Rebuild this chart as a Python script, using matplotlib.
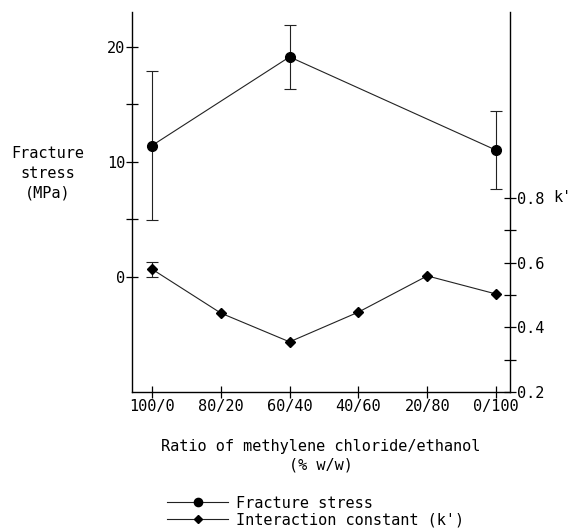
import numpy as np
import matplotlib.pyplot as plt
from matplotlib.ticker import FixedLocator

plt.rcParams['font.family'] = ['DejaVu Sans Mono']
plt.rcParams['font.size'] = 11

# data
ratios = ['100/0', '80/20', '60/40', '40/60', '20/80', '0/100']
stress_idx = [0, 2, 5]
stress = [11.4, 19.1, 11.0]
stress_err = [6.5, 2.8, 3.4]
k_prime = [0.580, 0.444, 0.355, 0.447, 0.559, 0.503]
k_err = [0.023, 0, 0, 0, 0, 0]

fig = plt.figure(figsize=(5.8, 5.31), dpi=100)
ax = fig.add_axes([0.2276, 0.2618, 0.6514, 0.7156])
ax2 = ax.twinx()

x = np.arange(len(ratios))

# fracture stress (left axis)
eb1 = ax.errorbar(stress_idx, stress, yerr=stress_err, color='#222222', lw=0.8,
                  marker='o', ms=7, mfc='black', mec='black', ecolor='#222222',
                  elinewidth=0.8, capsize=4, capthick=0.8)

# interaction constant (right axis)
kerr = np.array(k_err)
eb2 = ax2.errorbar(x, k_prime, yerr=np.where(kerr > 0, kerr, np.nan),
                   color='#222222', lw=0.8, marker='D', ms=5, mfc='black',
                   mec='black', ecolor='#222222', elinewidth=0.8, capsize=4,
                   capthick=0.8)

ax.set_xlim(-0.29, 5.2)
ax.set_ylim(-10, 23)
ax2.set_ylim(0.2, 1.375)

ax.set_xticks(x)
ax.set_xticklabels(ratios)
ax.yaxis.set_major_locator(FixedLocator([0, 10, 20]))
ax.yaxis.set_minor_locator(FixedLocator([5, 15]))
ax2.yaxis.set_major_locator(FixedLocator([0.2, 0.4, 0.6, 0.8]))
ax2.yaxis.set_minor_locator(FixedLocator([0.3, 0.5, 0.7]))
ax2.set_yticklabels(['0.2', '0.4', '0.6', '0.8'])

for a in (ax, ax2):
    a.spines['top'].set_visible(False)
    for s in a.spines.values():
        s.set_linewidth(1.0)
    a.tick_params(which='both', direction='inout', length=8, width=0.9, pad=1)

ax.spines['right'].set_visible(False)
ax2.spines['left'].set_visible(False)
ax2.spines['bottom'].set_visible(False)

ax.text(-0.222, 0.575, 'Fracture\nstress\n(MPa)', transform=ax.transAxes,
        ha='center', va='center', linespacing=1.4)
ax2.text(1.115, 0.8, "k'", transform=ax2.get_yaxis_transform(),
         ha='left', va='center')

ax.set_xlabel('Ratio of methylene chloride/ethanol\n(% w/w)', labelpad=18,
              linespacing=1.3)

fig.legend([eb1.lines[0], eb2.lines[0]],
           ['Fracture stress', "Interaction constant (k')"],
           loc='center left', bbox_to_anchor=(0.275, 0.037), frameon=False,
           handlelength=4.0, labelspacing=0.1, borderpad=0,
           handletextpad=0.5, markerscale=0.85)

fig.savefig('out.png', dpi=100)
